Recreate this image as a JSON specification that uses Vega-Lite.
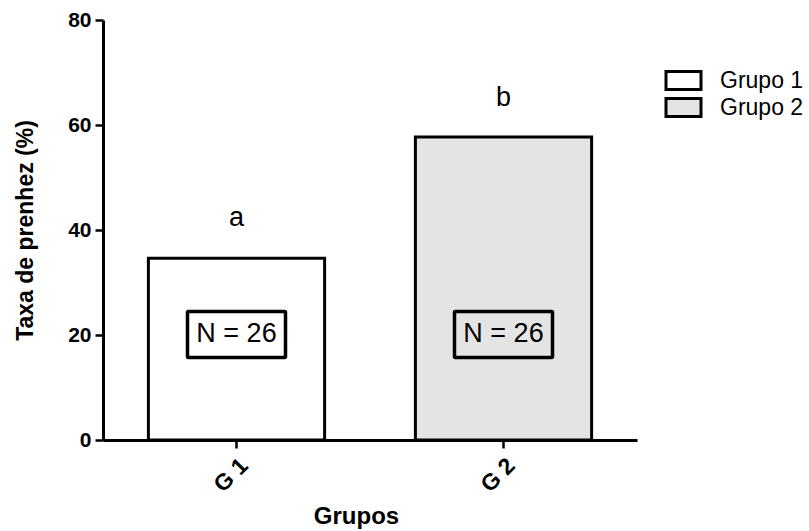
{
  "$schema": "https://vega.github.io/schema/vega-lite/v6.json",
  "width": 534,
  "height": 420,
  "autosize": {"type": "none"},
  "padding": {"left": 103, "top": 20, "right": 172, "bottom": 91},
  "background": "white",
  "config": {
    "view": {"stroke": null},
    "font": "Liberation Sans",
    "axis": {
      "domainColor": "black",
      "domainWidth": 3,
      "tickColor": "black",
      "tickWidth": 2.5,
      "tickSize": 8,
      "grid": false,
      "labelFont": "Liberation Sans",
      "labelFontWeight": "bold",
      "labelFontSize": 21,
      "labelColor": "black",
      "titleFont": "Liberation Sans",
      "titleFontWeight": "bold",
      "titleFontSize": 23,
      "titleColor": "black"
    }
  },
  "data": {
    "values": [
      {"grupo": "G 1", "legenda": "Grupo 1", "taxa": 34.6, "letra": "a", "letraY": 42.3, "nLow": 15.7, "nHigh": 24.5, "nMid": 20.1, "n": "N = 26"},
      {"grupo": "G 2", "legenda": "Grupo 2", "taxa": 57.7, "letra": "b", "letraY": 65.2, "nLow": 15.7, "nHigh": 24.5, "nMid": 20.1, "n": "N = 26"}
    ]
  },
  "encoding": {
    "x": {
      "field": "grupo",
      "type": "nominal",
      "sort": null,
      "scale": {"paddingInner": 0.34, "paddingOuter": 0.17},
      "axis": {"title": "Grupos", "labelAngle": -45, "labelFontSize": 23, "labelPadding": 6, "titlePadding": 8, "titleX": 253, "titleFontSize": 24}
    }
  },
  "layer": [
    {
      "mark": {"type": "bar", "stroke": "black", "strokeWidth": 3},
      "encoding": {
        "y": {
          "field": "taxa",
          "type": "quantitative",
          "scale": {"domain": [0, 80], "nice": false},
          "axis": {"title": "Taxa de prenhez (%)", "values": [0, 20, 40, 60, 80], "labelPadding": 4, "titlePadding": 30}
        },
        "fill": {
          "field": "legenda",
          "type": "nominal",
          "scale": {"domain": ["Grupo 1", "Grupo 2"], "range": ["white", "#e4e4e4"]},
          "legend": {
            "title": null,
            "orient": "none",
            "legendX": 569,
            "legendY": 49,
            "padding": 0,
            "symbolType": "M-1.75,-0.9H1.75V0.9H-1.75Z",
            "symbolSize": 400,
            "symbolStrokeColor": "black",
            "symbolStrokeWidth": 3,
            "symbolOpacity": 1,
            "labelFont": "Liberation Sans",
            "labelFontSize": 23,
            "labelColor": "black",
            "labelOffset": 25,
            "rowPadding": -4
          }
        }
      }
    },
    {
      "mark": {"type": "text", "font": "Liberation Sans", "fontSize": 27, "color": "black", "baseline": "middle"},
      "encoding": {
        "y": {"field": "letraY", "type": "quantitative"},
        "text": {"field": "letra"}
      }
    },
    {
      "mark": {"type": "bar", "width": 98, "fill": "transparent", "stroke": "black", "strokeWidth": 3.5, "cornerRadius": 1},
      "encoding": {
        "y": {"field": "nLow", "type": "quantitative"},
        "y2": {"field": "nHigh"}
      }
    },
    {
      "mark": {"type": "text", "font": "Liberation Sans", "fontSize": 27, "color": "black", "baseline": "middle"},
      "encoding": {
        "y": {"field": "nMid", "type": "quantitative"},
        "text": {"field": "n"}
      }
    }
  ]
}
